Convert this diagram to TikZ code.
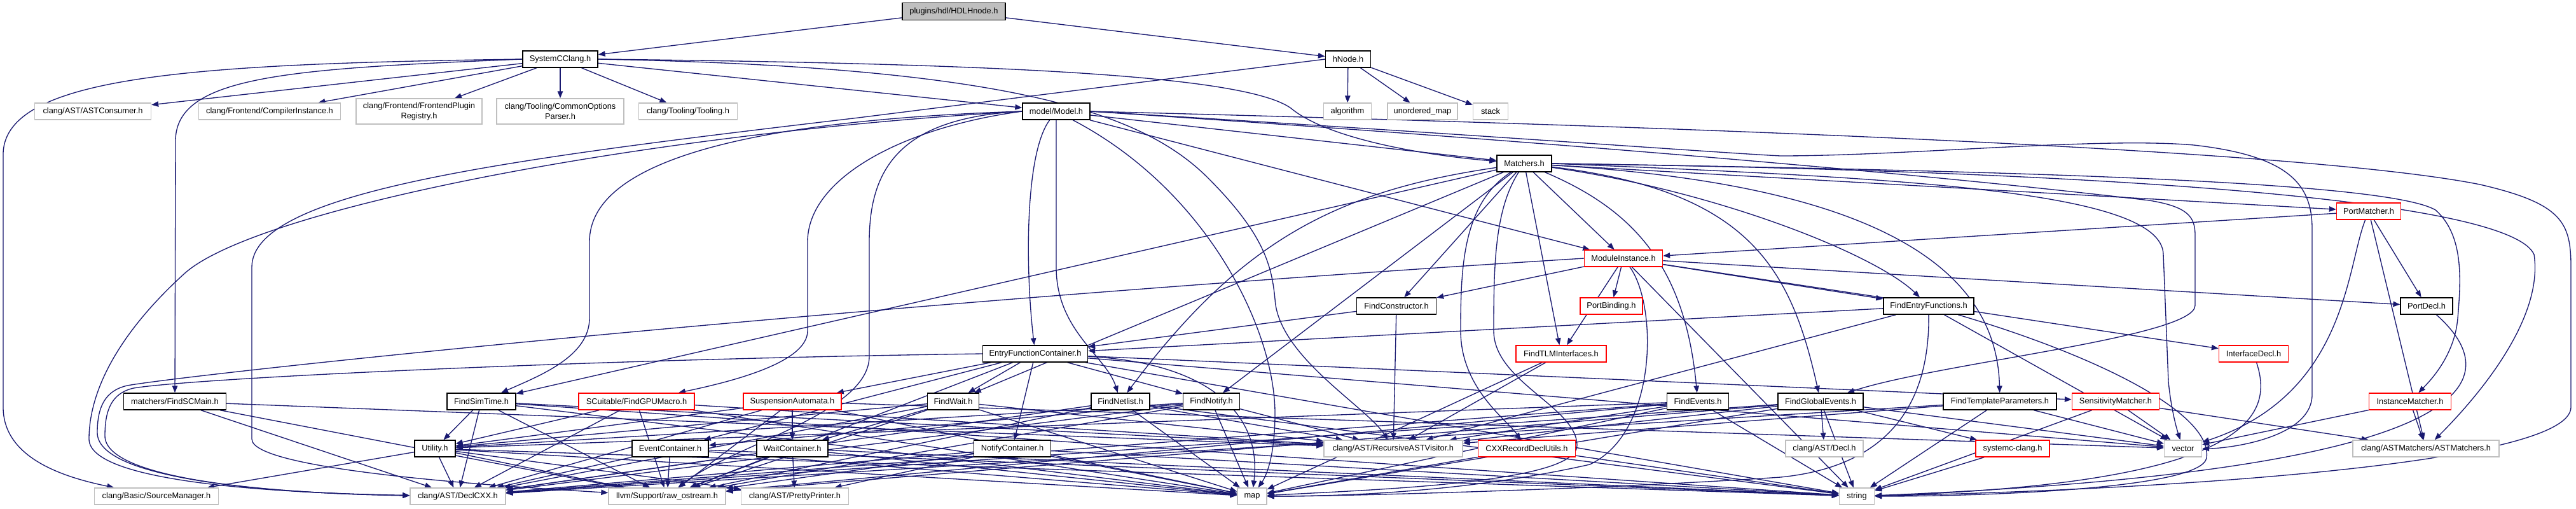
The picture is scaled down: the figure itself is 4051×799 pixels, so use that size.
\documentclass[tikz,border=0pt]{standalone}
\usepackage{fontspec}
\setmainfont{Liberation Sans}
\usetikzlibrary{arrows.meta}
\definecolor{edgec}{HTML}{191970}
\definecolor{extgray}{HTML}{BFBFBF}
\definecolor{rootfill}{HTML}{BFBFBF}
\pgfdeclarelayer{bg}
\pgfsetlayers{bg,main}
\tikzset{
  nbox/.style={rectangle, inner sep=0pt, minimum height=0.26cm, font=\fontsize{3.65pt}{4.6pt}\selectfont, fill=white, line width=0.4pt, align=center},
  docbox/.style={nbox, draw=black},
  extbox/.style={nbox, draw=extgray},
  redbox/.style={nbox, draw=red},
  rootbox/.style={nbox, draw=black, fill=rootfill},
  lnk/.style={draw=edgec, line width=0.38pt, -{Triangle[length=3.1pt,width=2.4pt]}}
}
\begin{document}
\begin{tikzpicture}[x=0.01cm, y=-0.01cm]
\useasboundingbox (0,0) rectangle (4051,799);
% ---------- nodes ----------
\node[rootbox, minimum width=1.62cm, minimum height=0.27cm] (hdl) at (1500,18) {plugins/hdl/HDLHnode.h};
\node[docbox, minimum width=1.18cm] (scc) at (881,93) {SystemCClang.h};
\node[docbox, minimum width=0.71cm] (hnode) at (2120,93) {hNode.h};
\node[extbox, minimum width=1.83cm] (astcons) at (146,175) {clang/AST/ASTConsumer.h};
\node[extbox, minimum width=2.23cm] (compinst) at (424,175) {clang/Frontend/CompilerInstance.h};
\node[extbox, minimum width=1.98cm, minimum height=0.40cm] (fpr) at (659,175) {clang/Frontend/FrontendPlugin\\Registry.h};
\node[extbox, minimum width=2.00cm, minimum height=0.40cm] (cop) at (881,175) {clang/Tooling/CommonOptions\\Parser.h};
\node[extbox, minimum width=1.55cm] (tooling) at (1082,175) {clang/Tooling/Tooling.h};
\node[docbox, minimum width=1.06cm] (model) at (1661,175) {model/Model.h};
\node[extbox, minimum width=0.75cm] (algo) at (2119,175) {algorithm};
\node[extbox, minimum width=1.10cm] (umap) at (2237,175) {unordered\_map};
\node[extbox, minimum width=0.55cm] (stack) at (2344,175) {stack};
\node[docbox, minimum width=0.86cm] (matchers) at (2397,257) {Matchers.h};
\node[redbox, minimum width=1.01cm] (portm) at (3725,332) {PortMatcher.h};
\node[redbox, minimum width=1.23cm] (modinst) at (2553,406) {ModuleInstance.h};
\node[docbox, minimum width=1.25cm] (findctor) at (2196,481) {FindConstructor.h};
\node[redbox, minimum width=0.98cm] (portbind) at (2534,481) {PortBinding.h};
\node[docbox, minimum width=1.42cm] (findentry) at (3033,481) {FindEntryFunctions.h};
\node[docbox, minimum width=0.82cm] (portdecl) at (3816,481) {PortDecl.h};
\node[docbox, minimum width=1.65cm] (efc) at (1628,556) {EntryFunctionContainer.h};
\node[redbox, minimum width=1.42cm] (findtlm) at (2455,556) {FindTLMInterfaces.h};
\node[redbox, minimum width=1.09cm] (ifdecl) at (3544,556) {InterfaceDecl.h};
\node[docbox, minimum width=1.61cm] (findscmain) at (275,631) {matchers/FindSCMain.h};
\node[docbox, minimum width=1.08cm] (findsimtime) at (757,631) {FindSimTime.h};
\node[redbox, minimum width=1.82cm] (gpumacro) at (1001,631) {SCuitable/FindGPUMacro.h};
\node[redbox, minimum width=1.54cm] (suspaut) at (1246,631) {SuspensionAutomata.h};
\node[docbox, minimum width=0.81cm] (findwait) at (1499,631) {FindWait.h};
\node[docbox, minimum width=0.92cm] (findnetlist) at (1762,631) {FindNetlist.h};
\node[docbox, minimum width=0.89cm] (findnotify) at (1905,631) {FindNotify.h};
\node[docbox, minimum width=0.97cm] (findevents) at (2670,631) {FindEvents.h};
\node[docbox, minimum width=1.34cm] (globalev) at (2863,631) {FindGlobalEvents.h};
\node[docbox, minimum width=1.78cm] (findtmpl) at (3145,631) {FindTemplateParameters.h};
\node[redbox, minimum width=1.37cm] (sensm) at (3327,631) {SensitivityMatcher.h};
\node[redbox, minimum width=1.29cm] (instm) at (3790,631) {InstanceMatcher.h};
\node[docbox, minimum width=0.64cm] (utility) at (684,705) {Utility.h};
\node[docbox, minimum width=1.20cm] (eventc) at (1054,705) {EventContainer.h};
\node[docbox, minimum width=1.12cm] (waitc) at (1246,705) {WaitContainer.h};
\node[docbox, minimum width=1.21cm] (notifyc) at (1592,705) {NotifyContainer.h};
\node[extbox, minimum width=2.18cm] (rav) at (2191,705) {clang/AST/RecursiveASTVisitor.h};
\node[redbox, minimum width=1.53cm] (cxxrdu) at (2401,705) {CXXRecordDeclUtils.h};
\node[extbox, minimum width=1.22cm] (decl) at (2869,705) {clang/AST/Decl.h};
\node[redbox, minimum width=1.16cm] (scclang) at (3165,705) {systemc-clang.h};
\node[extbox, minimum width=0.59cm] (vector) at (3433,705) {vector};
\node[extbox, minimum width=2.30cm] (astm) at (3815,705) {clang/ASTMatchers/ASTMatchers.h};
\node[extbox, minimum width=1.95cm] (srcmgr) at (246,780) {clang/Basic/SourceManager.h};
\node[extbox, minimum width=1.50cm] (declcxx) at (720,780) {clang/AST/DeclCXX.h};
\node[extbox, minimum width=1.84cm] (rawos) at (1049,780) {llvm/Support/raw\_ostream.h};
\node[extbox, minimum width=1.69cm] (pretty) at (1250,780) {clang/AST/PrettyPrinter.h};
\node[extbox, minimum width=0.46cm] (map) at (1969,780) {map};
\node[extbox, minimum width=0.55cm] (string) at (2920,780) {string};
% ---------- edges ----------
\begin{pgfonlayer}{bg}
\draw[lnk] (hdl) -- (scc);
\draw[lnk] (hdl) -- (hnode);
\foreach \t in {astcons,compinst,fpr,cop,tooling,model} \draw[lnk] (scc) -- (\t);
\draw[lnk] (scc.west) .. controls (300,100) and (10,120) .. (5,240) -- (5,640) .. controls (5,720) and (100,750) .. (srcmgr);
\draw[lnk] (scc.west) .. controls (450,108) and (278,120) .. (276,220) -- (findscmain);
\draw[lnk] (scc.east) .. controls (1600,100) and (1960,120) .. (2030,170) .. controls (2090,220) and (2250,245) .. (matchers);
\draw[lnk] (scc.east) .. controls (1600,105) and (1800,180) .. (1900,280) .. controls (1990,370) and (2000,420) .. (2005,470) .. controls (2010,560) and (2150,640) .. (rav);
\foreach \t in {algo,umap,stack} \draw[lnk] (hnode) -- (\t);
\draw[lnk] (hnode.west) -- (1350,185) .. controls (800,250) and (396,300) .. (396,420) -- (396,690) .. controls (396,740) and (800,765) .. (rawos);
% Model.h
\draw[lnk] (model.west) .. controls (1150,190) and (927,260) .. (927,380) -- (927,500) .. controls (927,560) and (850,590) .. (findsimtime);
\draw[lnk] (model.west) .. controls (1420,200) and (1270,280) .. (1270,380) -- (1270,520) .. controls (1270,570) and (1150,600) .. (gpumacro);
\draw[lnk] (model.west) .. controls (1000,210) and (400,330) .. (290,430) .. controls (180,530) and (140,620) .. (140,690) .. controls (140,760) and (450,775) .. (declcxx);
\draw[lnk] (model.west) .. controls (1420,185) and (1367,260) .. (1367,380) -- (1367,560) .. controls (1367,650) and (1150,700) .. (rawos);
\draw[lnk] (model) .. controls (1612,240) and (1612,420) .. (efc);
\draw[lnk] (model) -- (1661,420) .. controls (1661,520) and (1740,560) .. (findnetlist);
\draw[lnk] (model) .. controls (1900,300) and (2005,520) .. (2005,650) .. controls (2005,720) and (1990,750) .. (map);
\draw[lnk] (model) -- (modinst);
\draw[lnk] (model) -- (matchers);
\draw[lnk] (model.east) .. controls (2500,195) and (3600,230) .. (3900,290) .. controls (4030,320) and (4043,350) .. (4043,420) -- (4043,640) .. controls (4043,730) and (3400,770) .. (string);
\draw[lnk] (model.east) .. controls (2300,210) and (2700,240) .. (2800,245) .. controls (3000,245) and (3300,215) .. (3450,228) .. controls (3600,245) and (3636,290) .. (3636,360) -- (3636,620) .. controls (3636,690) and (3500,705) .. (vector);
\draw[lnk] (model.east) .. controls (2400,220) and (3000,270) .. (3380,315) .. controls (3440,325) and (3452,340) .. (3452,370) -- (3452,480) .. controls (3452,530) and (3050,570) .. (globalev);
% Matchers.h
\draw[lnk] (matchers) -- (findsimtime);
\draw[lnk] (matchers) -- (findwait);
\draw[lnk] (matchers) .. controls (2100,300) and (1950,380) .. (findnetlist);
\draw[lnk] (matchers) -- (findnotify);
\draw[lnk] (matchers) -- (findctor);
\draw[lnk] (matchers) .. controls (2300,320) and (2297,420) .. (2297,520) .. controls (2297,610) and (2370,660) .. (cxxrdu);
\draw[lnk] (matchers) .. controls (2350,330) and (2349,420) .. (2349,520) .. controls (2349,600) and (2480,640) .. (2480,700) .. controls (2480,760) and (2150,770) .. (map);
\draw[lnk] (matchers) -- (findtlm);
\draw[lnk] (matchers) -- (modinst);
\draw[lnk] (matchers) .. controls (2570,330) and (2650,420) .. (findevents);
\draw[lnk] (matchers) .. controls (2700,300) and (2950,400) .. (findentry);
\draw[lnk] (matchers) .. controls (2750,300) and (2816,420) .. (globalev);
\draw[lnk] (matchers) .. controls (2950,290) and (3140,420) .. (findtmpl);
\draw[lnk] (matchers) -- (portm);
\draw[lnk] (matchers.east) .. controls (3300,270) and (3760,290) .. (3830,330) .. controls (3875,370) and (3870,440) .. (3865,500) .. controls (3860,560) and (3820,600) .. (instm);
\draw[lnk] (matchers.east) .. controls (3400,270) and (3950,320) .. (3985,400) .. controls (4000,500) and (3900,620) .. (astm);
\draw[lnk] (matchers.east) .. controls (3000,280) and (3400,300) .. (3402,400) -- (3410,600) .. controls (3415,650) and (3425,680) .. (vector);
% EntryFunctionContainer.h
\draw[lnk] (efc.west) .. controls (900,565) and (300,595) .. (210,610) .. controls (175,618) and (165,645) .. (165,685) .. controls (165,750) and (400,775) .. (declcxx);
\foreach \t in {findwait,findnotify,notifyc,suspaut,sensm,string,vector,rawos,eventc} \draw[lnk] (efc) -- (\t);
\draw[lnk] (efc) .. controls (1900,570) and (1985,650) .. (map);
% FindConstructor.h
\draw[lnk] (findctor) -- (efc);
\draw[lnk] (findctor) -- (rav);
% ModuleInstance.h
\draw[lnk] (modinst.west) .. controls (1300,480) and (300,588) .. (200,606) .. controls (165,614) and (153,640) .. (153,680) .. controls (153,750) and (400,775) .. (declcxx);
\foreach \t in {findctor,portbind,findentry,portdecl,ifdecl,string,findtlm} \draw[lnk] (modinst) -- (\t);
\draw[lnk] (modinst) .. controls (2607,480) and (2607,680) .. (2500,730) .. controls (2300,775) and (2100,780) .. (map);
% PortMatcher.h
\draw[lnk] (portm) -- (modinst);
\draw[lnk] (portm) -- (portdecl);
\draw[lnk] (portm) .. controls (3690,420) and (3690,620) .. (vector);
\draw[lnk] (portm) -- (astm);
% FindEntryFunctions.h
\draw[lnk] (findentry) -- (efc);
\draw[lnk] (findentry) -- (rav);
\draw[lnk] (findentry) -- (vector);
\draw[lnk] (findentry) .. controls (3300,560) and (3480,650) .. (3470,720) .. controls (3460,770) and (3100,780) .. (string);
\draw[lnk] (findentry) .. controls (3034,600) and (3000,730) .. (2800,750) .. controls (2500,770) and (2100,780) .. (map);
% others
\draw[lnk] (findtlm) -- (rav);
\draw[lnk] (findtlm) -- (map);
\draw[lnk] (ifdecl) .. controls (3575,650) and (3550,760) .. (string);
\draw[lnk] (portdecl) .. controls (3950,600) and (3900,740) .. (string);
\foreach \t in {declcxx,rawos,rav} \draw[lnk] (findscmain) -- (\t);
\foreach \t in {utility,declcxx,rawos,rav,map,string} \draw[lnk] (findsimtime) -- (\t);
\foreach \t in {utility,declcxx,rawos,rav,map} \draw[lnk] (gpumacro) -- (\t);
\foreach \t in {waitc,utility,declcxx,rawos,map,vector} \draw[lnk] (suspaut) -- (\t);
\foreach \t in {waitc,utility,declcxx,rawos,rav,map} \draw[lnk] (findwait) -- (\t);
\foreach \t in {declcxx,rawos,rav,map,string} \draw[lnk] (findnetlist) -- (\t);
\foreach \t in {eventc,utility,declcxx,rawos,rav,map} \draw[lnk] (findnotify) -- (\t);
\foreach \t in {rav,map,string,declcxx,rawos,utility} \draw[lnk] (findevents) -- (\t);
\foreach \t in {decl,scclang,vector,string,map,rav,declcxx,rawos} \draw[lnk] (globalev) -- (\t);
\foreach \t in {vector,rav,string,declcxx} \draw[lnk] (findtmpl) -- (\t);
\foreach \t in {vector,astm,string} \draw[lnk] (sensm) -- (\t);
\foreach \t in {vector,astm} \draw[lnk] (instm) -- (\t);
\foreach \t in {srcmgr,declcxx,rawos,pretty,map,string} \draw[lnk] (utility) -- (\t);
\foreach \t in {rawos,declcxx,map,string} \draw[lnk] (eventc) -- (\t);
\foreach \t in {pretty,rawos,declcxx,map,string} \draw[lnk] (waitc) -- (\t);
\foreach \t in {declcxx,rawos,pretty,map,string} \draw[lnk] (notifyc) -- (\t);
\foreach \t in {map,string} \draw[lnk] (cxxrdu) -- (\t);
\draw[lnk] (scclang) -- (string);
\end{pgfonlayer}
\end{tikzpicture}
\end{document}
